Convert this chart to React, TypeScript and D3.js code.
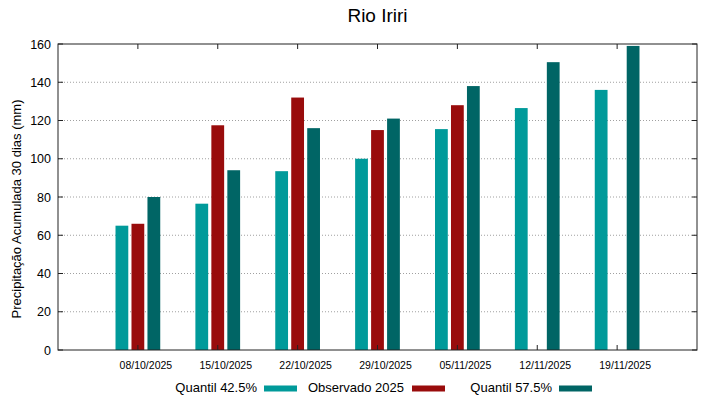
import React from 'react';
import * as d3 from 'd3';

const dates = ['08/10/2025', '15/10/2025', '22/10/2025', '29/10/2025', '05/11/2025', '12/11/2025', '19/11/2025'];
const quantil425 = [65, 76.5, 93.5, 100, 115.5, 126.5, 136];
const observado2025: (number | null)[] = [66, 117.5, 132, 115, 128, null, null];
const quantil575 = [80, 94, 116, 121, 138, 150.5, 159];
const yTicks = [0, 20, 40, 60, 80, 100, 120, 140, 160];

const series = [
  { name: 'Quantil 42.5%', values: quantil425, color: '#009a9a', offset: -0.2 },
  { name: 'Observado 2025', values: observado2025, color: '#990c0c', offset: 0 },
  { name: 'Quantil 57.5%', values: quantil575, color: '#006565', offset: 0.2 },
];

const W = 719, H = 399;
const pad = { left: 58, right: 697, top: 44, bottom: 350 };
const font = '"Liberation Sans", Arial, sans-serif';

export default function App() {
  const x = d3.scaleLinear([0, dates.length + 1], [pad.left, pad.right]);
  const y = d3.scaleLinear([0, 160], [pad.bottom, pad.top]);
  const barW = x(0.16) - x(0);

  // legend layout: text right-aligned next to its swatch
  const legendItems = [
    { s: series[0], textEnd: 257, swatch: 264 },
    { s: series[1], textEnd: 404, swatch: 412 },
    { s: series[2], textEnd: 552, swatch: 559 },
  ];

  return (
    <svg width={W} height={H} style={{ position: 'absolute', left: 0, top: 0, background: '#fff' }} fontFamily={font}>
      <rect width={W} height={H} fill="#fff" />
      <text x={(pad.left + pad.right) / 2} y={22} textAnchor="middle" fontSize={19} fill="#000">Rio Iriri</text>

      {/* grid */}
      {yTicks.slice(1, -1).map(t => (
        <line key={'g' + t} x1={pad.left} x2={pad.right} y1={y(t)} y2={y(t)} stroke="#a0a0a0" strokeWidth={1} strokeDasharray="1,2" />
      ))}

      {/* bars */}
      {series.map(s => s.values.map((v, i) => v == null ? null : (
        <rect key={s.name + i} x={x(i + 1 + s.offset) - barW / 2} y={y(v)} width={barW} height={y(0) - y(v)} fill={s.color} />
      )))}

      {/* frame */}
      <rect x={pad.left} y={pad.top} width={pad.right - pad.left} height={pad.bottom - pad.top} fill="none" stroke="#222" strokeWidth={1} />

      {/* y ticks */}
      {yTicks.map(t => (
        <g key={'y' + t}>
          <line x1={pad.left} x2={pad.left + 5} y1={y(t)} y2={y(t)} stroke="#222" />
          <line x1={pad.right - 5} x2={pad.right} y1={y(t)} y2={y(t)} stroke="#222" />
          <text x={pad.left - 7} y={y(t) + 4.5} textAnchor="end" fontSize={12.5} fill="#000">{t}</text>
        </g>
      ))}

      {/* x ticks */}
      {dates.map((d, i) => (
        <g key={d}>
          <line x1={x(i + 1)} x2={x(i + 1)} y1={pad.bottom} y2={pad.bottom - 5} stroke="#222" />
          <line x1={x(i + 1)} x2={x(i + 1)} y1={pad.top} y2={pad.top + 5} stroke="#222" />
          <text x={x(i + 1) + 8} y={369} textAnchor="middle" fontSize={10.5} fill="#000">{d}</text>
        </g>
      ))}

      <text transform={`translate(21,209) rotate(-90)`} textAnchor="middle" fontSize={13} fill="#000">Precipitação Acumulada 30 dias (mm)</text>

      {/* legend */}
      {legendItems.map(l => (
        <g key={l.s.name}>
          <text x={l.textEnd} y={392} textAnchor="end" fontSize={13} fill="#000">{l.s.name}</text>
          <rect x={l.swatch} y={385.5} width={33} height={6} fill={l.s.color} />
        </g>
      ))}
    </svg>
  );
}
